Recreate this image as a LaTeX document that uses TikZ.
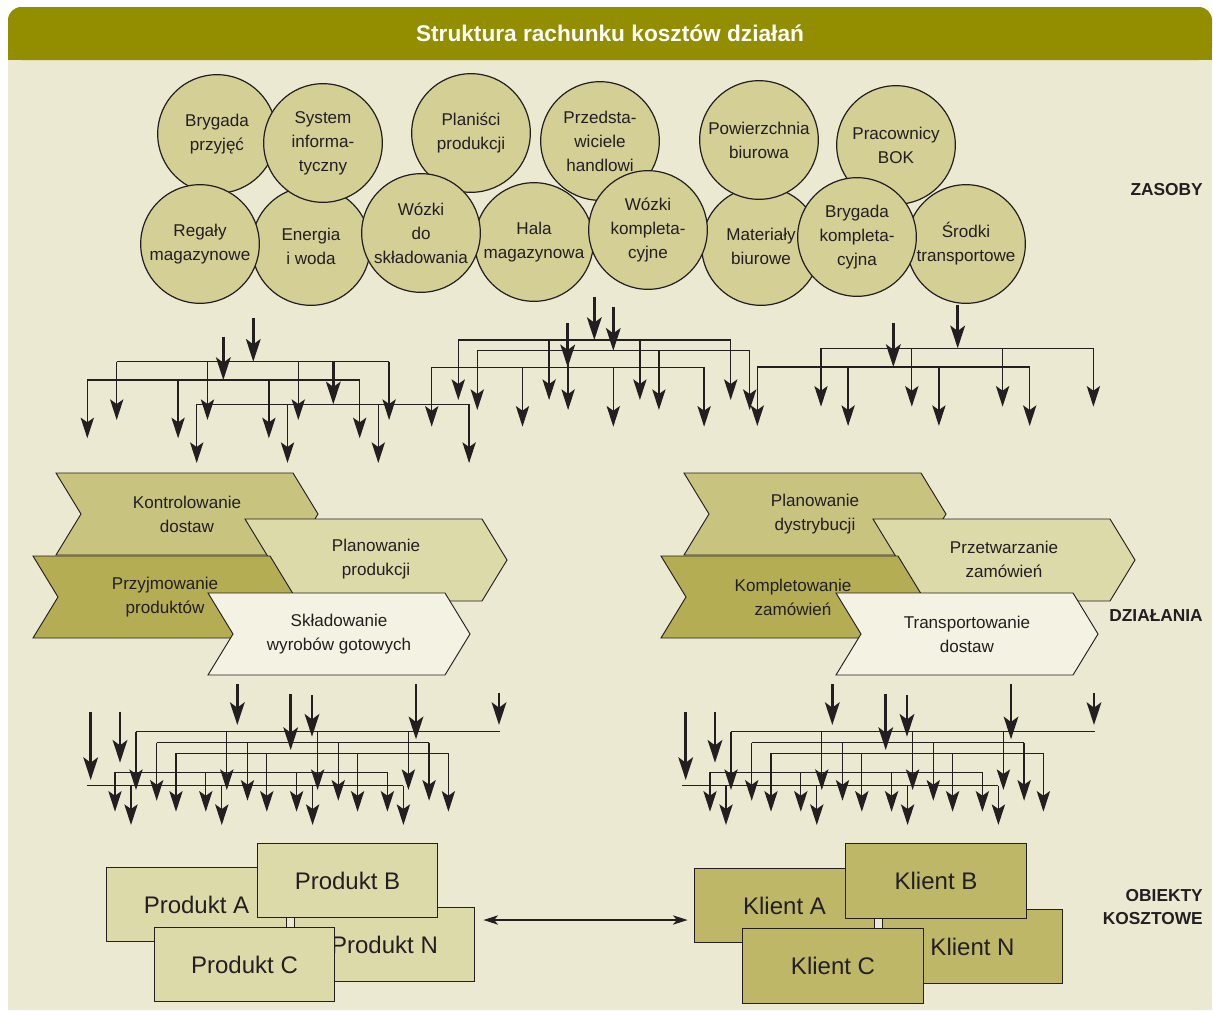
\documentclass[tikz,border=0pt]{standalone}
\usepackage{fontspec}
\setmainfont{Liberation Sans}
\usepackage{tikz}
\usetikzlibrary{arrows.meta}

\definecolor{panel}{RGB}{236,233,210}
\definecolor{titlebar}{RGB}{147,142,0}
\definecolor{ink}{RGB}{35,31,32}
\definecolor{resfill}{RGB}{212,207,149}
\definecolor{actA}{RGB}{200,195,127}
\definecolor{actB}{RGB}{180,173,83}
\definecolor{actC}{RGB}{221,218,170}
\definecolor{actD}{RGB}{244,242,226}
\definecolor{prodfill}{RGB}{221,218,170}
\definecolor{clientfill}{RGB}{190,183,104}

\begin{document}
\begin{tikzpicture}[
    x=0.75pt, y=-0.75pt,
    font=\fontsize{12.8}{18}\selectfont,
    text=ink,
    resource/.style={circle, draw=ink, line width=0.9pt, fill=resfill, minimum size=89pt, inner sep=0pt, align=center},
    activity/.style={draw=ink, line width=0.7pt, line join=miter},
    actlabel/.style={align=center, inner sep=0pt},
    costobj/.style={draw=ink, line width=0.9pt, minimum width=135.5pt, minimum height=56pt, font=\fontsize{18}{21}\selectfont},
    layer/.style={anchor=east, align=right, inner sep=0pt, font=\fontsize{13}{17}\selectfont\bfseries},
    bus/.style={draw=ink, line width=0.95pt},
    drop/.style={draw=ink, line width=0.95pt, -{Stealth[length=15.5pt, width=10pt, inset=3.5pt]}},
    feed/.style={draw=ink, line width=2pt, -{Stealth[length=17pt, width=11pt, inset=4pt]}},
    link/.style={draw=ink, line width=0.95pt, {Stealth[length=11pt, width=7pt, inset=3pt]}-{Stealth[length=11pt, width=7pt, inset=3pt]}}
  ]
    \useasboundingbox (0,0) rectangle (1213,1010);
    \fill[panel, rounded corners=10pt] (8,7) rectangle (1212,1010);
    \fill[panel] (8,990) rectangle (1212,1010);
    \fill[titlebar, rounded corners=10pt] (8,7) rectangle (1212,60);
    \fill[titlebar] (8,40) rectangle (1212,60);
    \node[text=white, font=\fontsize{17}{20}\selectfont\bfseries] (title) at (610,33) {Struktura rachunku kosztów działań};

    \node[resource] (energia) at (311,246) {Energia\\i woda};
    \node[resource] (hala) at (534,242) {Hala\\magazynowa};
    \node[resource] (materialy) at (761,246) {Materiały\\biurowe};
    \node[resource] (srodki) at (966,244) {Środki\\transportowe};
    \node[resource] (brygada) at (217,134) {Brygada\\przyjęć};
    \node[resource] (system) at (323,143) {System\\informa-\\tyczny};
    \node[resource] (planisci) at (471,133) {Planiści\\produkcji};
    \node[resource] (przedst) at (600,141) {Przedsta-\\wiciele\\handlowi};
    \node[resource] (powierz) at (759,140) {Powierzchnia\\biurowa};
    \node[resource] (bok) at (896,145) {Pracownicy\\BOK};
    \node[resource] (regaly) at (200,244) {Regały\\magazynowe};
    \node[resource] (wozkisk) at (421,233) {Wózki\\do\\składowania};
    \node[resource] (wozkikp) at (648,230) {Wózki\\kompleta-\\cyjne};
    \node[resource] (brygkp) at (857,237) {Brygada\\kompleta-\\cyjna};
    \node[layer] (zasoby) at (1203,190) {ZASOBY};

    \foreach \bx/\by/\bt [count=\i] in {116.7/361.7/420, 87.3/380/438.3, 196.7/404.3/463,
        458.3/340/400, 477.3/350.7/410, 431.7/367.3/426.7, 821/348.3/406.7, 757.3/367/426,
        136/731.7/790, 156.7/742.7/800.7, 176/753.3/811.7, 115/772.3/811.7, 131/785.7/825,
        731/731.7/790, 751.7/742.7/800.7, 771/753.3/811.7, 710/772.3/811.7, 726/785.7/825} {
      \foreach \k in {0,...,3} {
        \coordinate (bus\i-\k) at (\bx+90.8*\k,\by);
        \coordinate (tip\i-\k) at (\bx+90.8*\k,\bt);
        \draw[drop] (bus\i-\k) -- (tip\i-\k);
      }
      \draw[bus] (bus\i-0) -- (bus\i-3);
    }
    \coordinate (ext1) at (500,731.7);
    \coordinate (ext2) at (87.3,785.7);
    \coordinate (ext3) at (1095,731.7);
    \coordinate (ext4) at (682.3,785.7);
    \draw[bus] (bus9-3) -- (ext1);
    \draw[bus] (ext2) -- (bus13-0);
    \draw[bus] (bus14-3) -- (ext3);
    \draw[bus] (ext4) -- (bus18-0);

    \foreach \fx/\fa/\fb [count=\j] in {253.3/318/361.7, 223.3/336.7/380, 333.3/361/404.3,
        594.3/296.7/340, 613.3/307.3/350.7, 567.7/323.3/367.3, 957.7/305/348.3, 893.3/323.3/367,
        90.7/711.7/780, 120/711.7/762.7, 237.3/684/725, 290.7/694/750, 312/695/736.7, 416/684/739.3, 499/692.7/725,
        685.7/711.7/780, 715/711.7/762.7, 832.3/684/725, 885.7/694/750, 907/695/736.7, 1011/684/739.3, 1094/692.7/725} {
      \coordinate (src\j) at (\fx,\fa);
      \coordinate (hit\j) at (\fx,\fb);
      \draw[feed] (src\j) -- (hit\j);
    }

    \foreach \cx/\cy/\cc in {56/473/actA, 245/519/actC, 33/556/actB, 208/593/actD,
        684/473/actA, 873/519/actC, 661/556/actB, 836/593/actD}
      \filldraw[activity, fill=\cc] (\cx,\cy) -- ++(237,0) -- ++(25,41) -- ++(-25,41) -- ++(-237,0) -- ++(25,-41) -- cycle;
    \node[actlabel] (kontrol) at (187,514) {Kontrolowanie\\dostaw};
    \node[actlabel] (planprod) at (376,559) {Planowanie\\produkcji};
    \node[actlabel] (przyjm) at (165,597) {Przyjmowanie\\produktów};
    \node[actlabel] (sklad) at (339,634) {Składowanie\\wyrobów gotowych};
    \node[actlabel] (plandyst) at (815,514) {Planowanie\\dystrybucji};
    \node[actlabel] (przetw) at (1004,559) {Przetwarzanie\\zamówień};
    \node[actlabel] (komplet) at (793,597) {Kompletowanie\\zamówień};
    \node[actlabel] (transp) at (967,634) {Transportowanie\\dostaw};
    \node[layer] (dzialania) at (1203,616) {DZIAŁANIA};

    \node[costobj, fill=prodfill] (prodA) at (196.5,904.5) {Produkt A};
    \node[costobj, fill=prodfill] (prodN) at (384.5,944.5) {Produkt N};
    \node[costobj, fill=prodfill] (prodB) at (347.5,880.5) {Produkt B};
    \node[costobj, fill=prodfill] (prodC) at (244.5,964.5) {Produkt C};
    \node[costobj, fill=clientfill] (klientA) at (784.5,905.5) {Klient A};
    \node[costobj, fill=clientfill] (klientN) at (972.5,946.5) {Klient N};
    \node[costobj, fill=clientfill] (klientB) at (936,881) {Klient B};
    \node[costobj, fill=clientfill] (klientC) at (833,966) {Klient C};
    \coordinate (linky) at (0,920);
    \draw[link, shorten <=6pt, shorten >=4.5pt] (prodN.east |- linky) -- (klientA.west |- linky);
    \node[layer] (obiekty) at (1203,907) {OBIEKTY\\KOSZTOWE};
\end{tikzpicture}
\end{document}
